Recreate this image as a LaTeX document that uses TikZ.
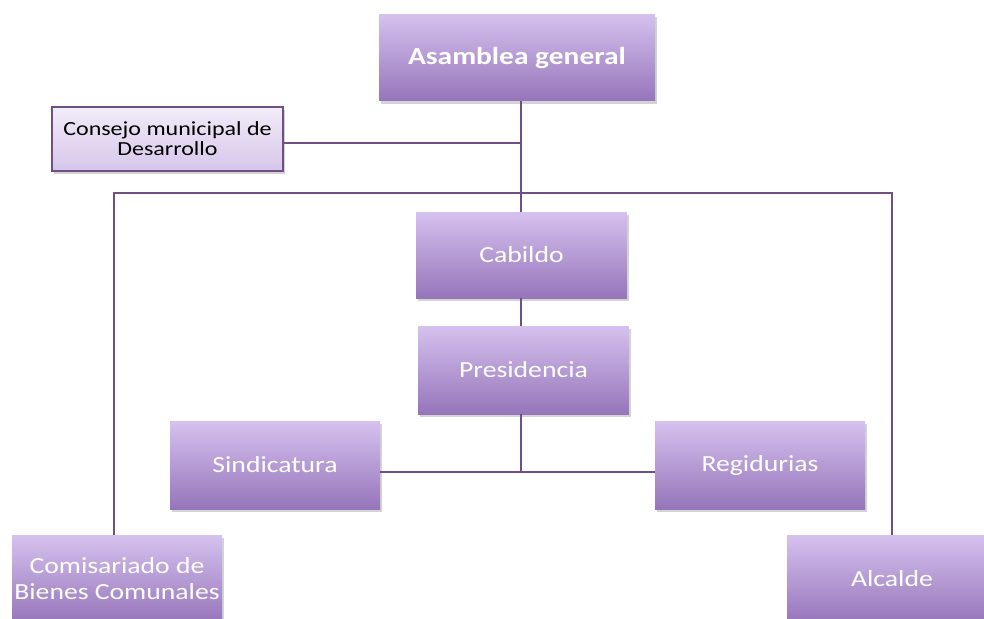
\documentclass[tikz,border=0pt]{standalone}
\usepackage{fontspec}
\setmainfont{Carlito}[FakeStretch=1.2]
\usetikzlibrary{shadows}
\definecolor{ltop}{RGB}{213,193,238}
\definecolor{lbot}{RGB}{150,117,186}
\definecolor{ctop}{RGB}{242,236,249}
\definecolor{cbot}{RGB}{214,198,234}
\definecolor{cline}{RGB}{110,80,135}
\begin{document}
\begin{tikzpicture}[x=0.75pt,y=-0.75pt,
  box/.style={rectangle, top color=ltop, bottom color=lbot, draw=none,
    text=white, font=\fontsize{17.3}{19.5}\selectfont, align=center,
    minimum width=157.5pt, minimum height=66pt, inner sep=0pt,
    drop shadow={shadow xshift=1.5pt, shadow yshift=-2pt, opacity=0.35, fill=gray}},
  conbox/.style={rectangle, top color=ctop, bottom color=cbot, draw=cline, line width=1.5pt,
    text=black, font=\fontsize{15}{15}\selectfont, align=center,
    minimum width=173pt, minimum height=48pt, inner sep=0pt,
    drop shadow={shadow xshift=1.5pt, shadow yshift=-2pt, opacity=0.35, fill=gray}},
  conn/.style={draw=cline, line width=1.8pt}]
\useasboundingbox (0,0) rectangle (984,618);
\node[box, minimum width=207pt, minimum height=65pt, font=\fontsize{18.4}{20}\selectfont\bfseries] (asam) at (517,57.5) {Asamblea general};
\node[conbox] (cons) at (167.5,139) {Consejo municipal de\\Desarrollo};
\node[box, minimum width=158pt, minimum height=64.5pt] (cab) at (521.5,255) {Cabildo};
\node[box, minimum width=158pt, minimum height=66pt] (pres) at (523.5,370) {Presidencia};
\node[box] (sin) at (275,465) {Sindicatura};
\node[box] (reg) at (760,465) {Regidurias};
\node[box] (com) at (117,579) {Comisariado de\\Bienes Comunales};
\node[box] (alc) at (892,579) {Alcalde};
\coordinate (j1) at (521,143);
\coordinate (j2) at (521,193);
\coordinate (j3) at (521,472);
\coordinate (lc) at (114,193);
\coordinate (rc) at (892,193);
\draw[conn] (asam.south -| j1) -- (cab.north -| j1);
\draw[conn] (cons.east |- j1) -- (j1);
\draw[conn] (com.north -| lc) -- (lc) -- (rc) -- (alc.north -| rc);
\draw[conn] (cab.south -| j1) -- (pres.north -| j1);
\draw[conn] (pres.south -| j1) -- (j3);
\draw[conn] (sin.east |- j3) -- (reg.west |- j3);
\end{tikzpicture}
\end{document}
